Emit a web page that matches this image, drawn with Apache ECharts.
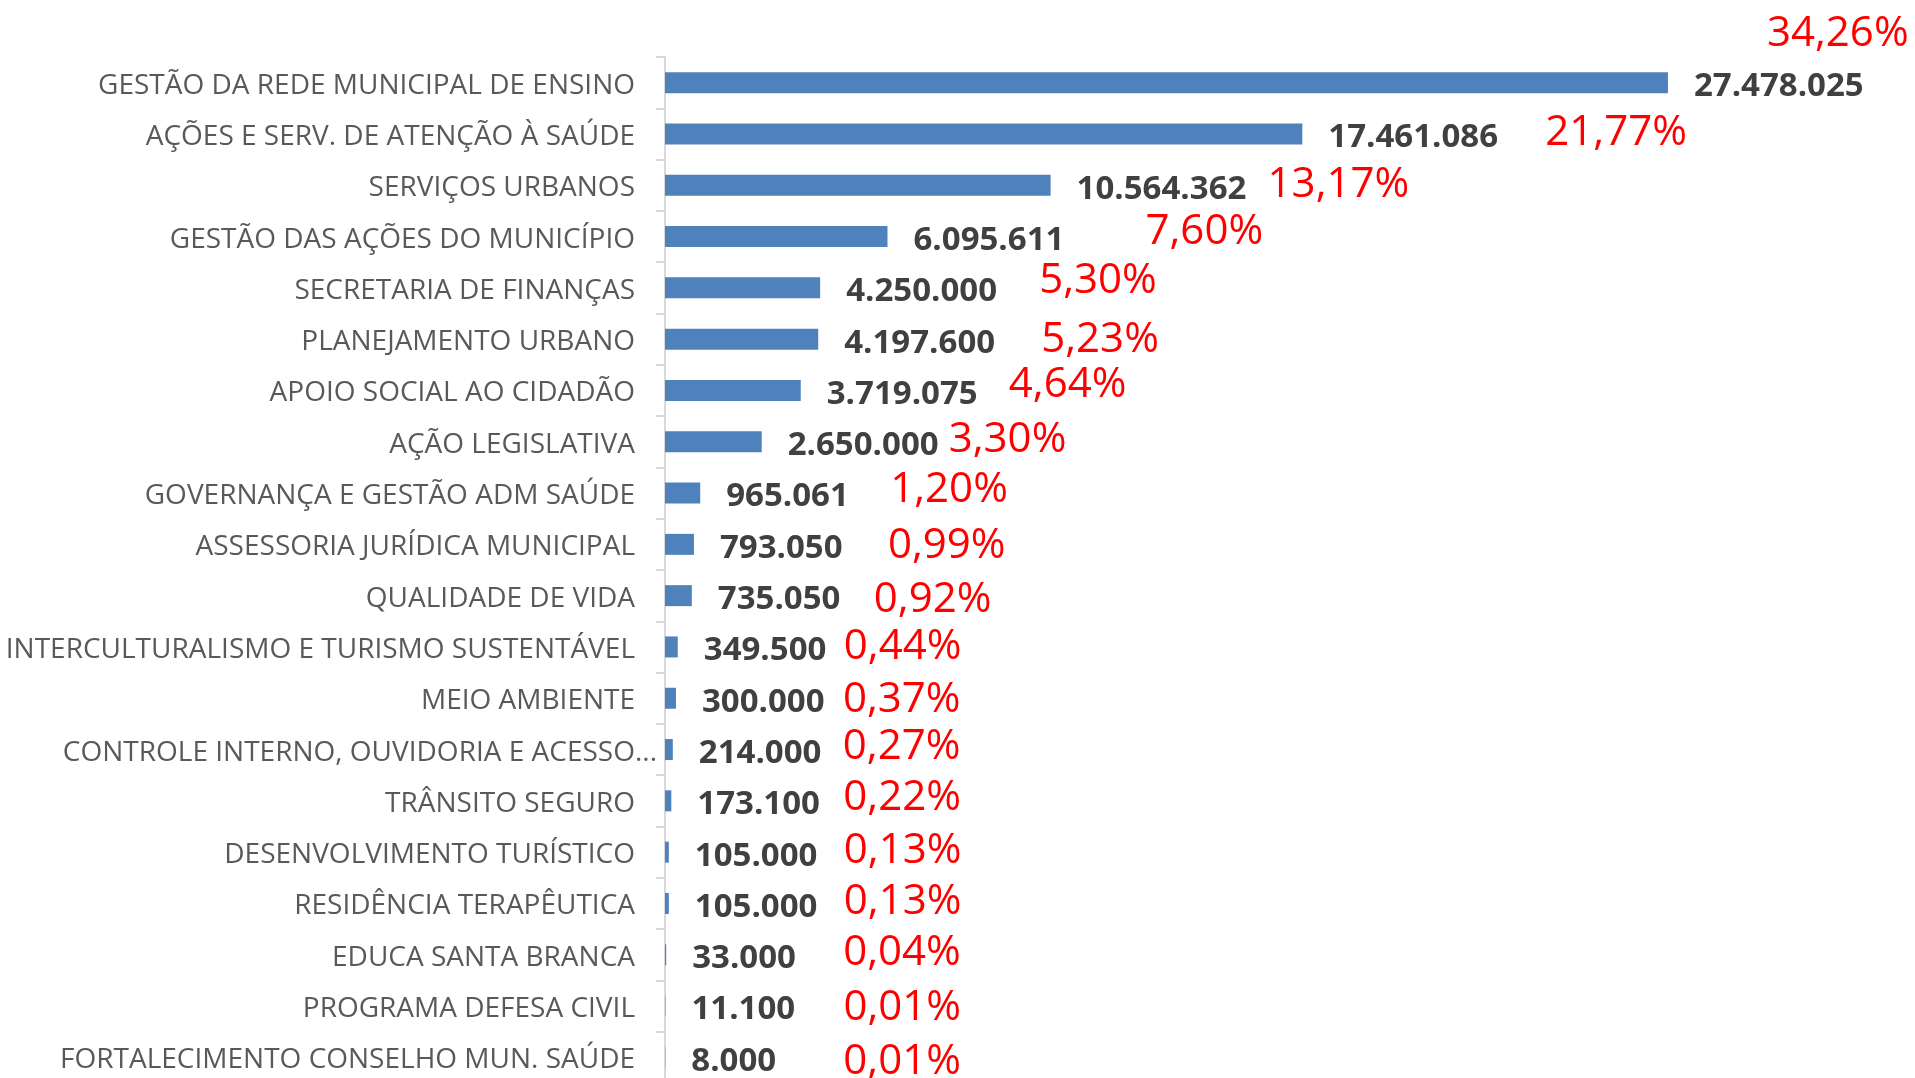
<!DOCTYPE html>
<html>
<head>
<meta charset="utf-8">
<title>Programas</title>
<script src="https://cdn.jsdelivr.net/npm/echarts@6/dist/echarts.min.js"></script>
<style>
  html, body { margin: 0; padding: 0; background: #fff; }
  #chart { width: 1915px; height: 1078px; }
</style>
</head>
<body>
<div id="chart"></div>
<script>
var categories = [
  'GESTÃO DA REDE MUNICIPAL DE ENSINO',
  'AÇÕES E SERV. DE ATENÇÃO À SAÚDE',
  'SERVIÇOS URBANOS',
  'GESTÃO DAS AÇÕES DO MUNICÍPIO',
  'SECRETARIA DE FINANÇAS',
  'PLANEJAMENTO URBANO',
  'APOIO SOCIAL AO CIDADÃO',
  'AÇÃO LEGISLATIVA',
  'GOVERNANÇA E GESTÃO ADM SAÚDE',
  'ASSESSORIA JURÍDICA MUNICIPAL',
  'QUALIDADE DE VIDA',
  'INTERCULTURALISMO E TURISMO SUSTENTÁVEL',
  'MEIO AMBIENTE',
  'CONTROLE INTERNO, OUVIDORIA E ACESSO...',
  'TRÂNSITO SEGURO',
  'DESENVOLVIMENTO TURÍSTICO',
  'RESIDÊNCIA TERAPÊUTICA',
  'EDUCA SANTA BRANCA',
  'PROGRAMA DEFESA CIVIL',
  'FORTALECIMENTO CONSELHO MUN. SAÚDE'
];

var values = [
  27478025, 17461086, 10564362, 6095611, 4250000,
  4197600, 3719075, 2650000, 965061, 793050,
  735050, 349500, 300000, 214000, 173100,
  105000, 105000, 33000, 11100, 8000
];

var percents = [
  34.26, 21.77, 13.17, 7.60, 5.30,
  5.23, 4.64, 3.30, 1.20, 0.99,
  0.92, 0.44, 0.37, 0.27, 0.22,
  0.13, 0.13, 0.04, 0.01, 0.01
];

// the % boxes were placed by hand in the original, so nudge each one
var pctNudge = [
  [99, -49], [243, -1], [217, 0], [258, -5], [219, -7],
  [223, 1], [208, -5], [187, -2], [190, -3], [194, 2],
  [182, 4], [166, 0], [167, 2], [170, -3], [172, -3],
  [175, -1], [175, -1], [177, -2], [178, 2], [178, 5]
];

function fmtInt(v) {
  return String(v).replace(/\B(?=(\d{3})+(?!\d))/g, '.');
}

function fmtPct(p) {
  return p.toFixed(2).replace('.', ',') + '%';
}

var chart = echarts.init(document.getElementById('chart'));

var option = {
  animation: false,
  grid: {
    left: 665,
    top: 57,
    width: 1095,
    height: 1026,
    outerBoundsMode: 'none'
  },
  xAxis: {
    type: 'value',
    min: 0,
    max: 30000000,
    show: false
  },
  yAxis: {
    type: 'category',
    inverse: true,
    data: categories,
    axisLine: { lineStyle: { color: '#d9d9d9', width: 2 } },
    axisTick: { show: true, length: 9, lineStyle: { color: '#d9d9d9', width: 2 } },
    axisLabel: {
      margin: 30,
      color: '#595959',
      // the truncated label runs a bit past the others in the original
      formatter: function (v) {
        return v.indexOf('...') > 0 ? '{cut|' + v + '}' : '{t|' + v + '}';
      },
      rich: {
        t: { fontFamily: 'Open Sans', fontSize: 28, color: '#595959', padding: [6, 0, 0, 0] },
        cut: { fontFamily: 'Open Sans', fontSize: 28, color: '#595959', padding: [6, -22, 0, 0] }
      }
    }
  },
  series: [
    {
      name: 'valor',
      type: 'bar',
      barWidth: 21,
      data: values,
      itemStyle: { color: '#4f81bd' },
      label: {
        show: true,
        position: 'right',
        distance: 26,
        offset: [0, 4],
        fontFamily: 'Open Sans',
        fontWeight: 'bold',
        fontSize: 33,
        color: '#404040',
        formatter: function (p) { return fmtInt(p.value); }
      }
    },
    {
      name: 'percentual',
      type: 'bar',
      barWidth: 21,
      barGap: '-100%',
      silent: true,
      itemStyle: { color: 'transparent' },
      data: values.map(function (v, i) {
        return { value: v, label: { offset: pctNudge[i] } };
      }),
      label: {
        show: true,
        position: 'right',
        distance: 0,
        fontFamily: 'Open Sans',
        fontSize: 42,
        color: '#ff0000',
        formatter: function (p) { return fmtPct(percents[p.dataIndex]); }
      }
    }
  ]
};

chart.setOption(option);
</script>
</body>
</html>
